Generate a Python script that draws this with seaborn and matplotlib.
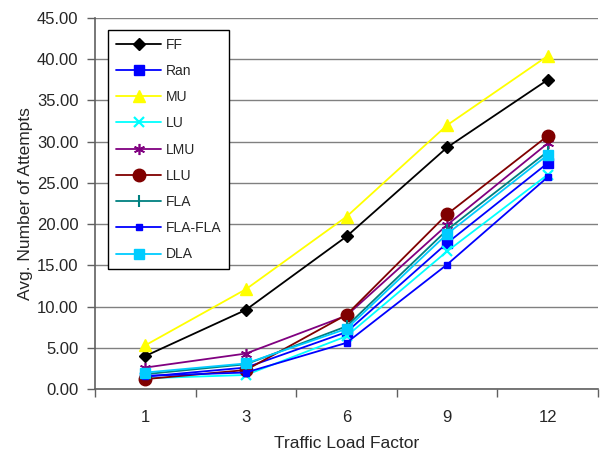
import matplotlib
matplotlib.use("Agg")
import matplotlib.pyplot as plt
import seaborn as sns
import pandas as pd
import numpy as np

categories = ["1", "3", "6", "9", "12"]
series_names = ["FF", "Ran", "MU", "LU", "LMU", "LLU", "FLA", "FLA-FLA", "DLA"]
ff = [4.0, 9.6, 18.5, 29.3, 37.5]
ran = [1.5, 2.6, 6.9, 17.7, 27.4]
mu = [5.3, 12.1, 20.9, 32.0, 40.4]
lu = [1.3, 1.7, 6.4, 16.7, 26.0]
lmu = [2.6, 4.3, 8.9, 19.9, 29.8]
llu = [1.2, 2.3, 9.0, 21.2, 30.7]
fla = [1.8, 3.0, 7.6, 19.3, 28.8]
fla_fla = [1.6, 2.0, 5.6, 15.1, 25.7]
dla = [2.0, 3.1, 7.3, 18.8, 28.4]

values = [ff, ran, mu, lu, lmu, llu, fla, fla_fla, dla]
colors = ["#000000", "#0000FF", "#FFFF00", "#00FFFF", "#800080",
          "#800000", "#008080", "#0000FF", "#00CCFF"]
markers = ["D", "s", "^", "x", (6, 2, 0), "o", "|", "s", "s"]
msizes = [6, 7.5, 8.5, 7, 8, 9, 8, 4.5, 7]
mews = [1, 1, 1, 1.6, 1.2, 1, 1.5, 1, 1]

sns.set_theme(style="white")
plt.rcParams["font.family"] = ["Liberation Sans", "DejaVu Sans"]

fig = plt.figure(figsize=(6.0, 4.54), dpi=100)
ax = fig.add_axes([95/600, 1-389/454, (598-95)/600, (389-18)/454])

pos = list(range(len(categories)))
for name, vals, c, m, ms, mew in zip(series_names, values, colors, markers, msizes, mews):
    df = pd.DataFrame({"x": pos, "y": vals})
    sns.lineplot(data=df, x="x", y="y", ax=ax, color=c, marker=m,
                 markersize=ms, markeredgewidth=mew, markeredgecolor=c,
                 linewidth=1.3, label=name)

ax.set_xlim(-0.5, len(categories) - 0.5)
ax.set_ylim(0, 45)
yt = np.arange(0, 45.01, 5)
ax.set_yticks(yt)
ax.set_yticklabels([f"{v:.2f}" for v in yt], fontsize=12)
ax.set_xticks(pos)
ax.set_xticklabels(categories, fontsize=12)
ax.set_xticks(np.arange(-0.5, len(categories), 1), minor=True)
ax.tick_params(axis="x", which="major", length=0, pad=15)
ax.tick_params(axis="x", which="minor", length=6, width=1, color="#606060", direction="out", bottom=True)
ax.tick_params(axis="y", which="major", length=6, width=1, color="#606060", direction="out", left=True, pad=6)
ax.yaxis.grid(True, color="#808080", linewidth=1)
ax.xaxis.grid(False)
for s in ["top", "right"]:
    ax.spines[s].set_visible(False)
for s in ["left", "bottom"]:
    ax.spines[s].set_color("#606060")
    ax.spines[s].set_linewidth(1.2)

ax.set_xlabel("Traffic Load Factor", fontsize=12.5, labelpad=8)
ax.set_ylabel("Avg. Number of Attempts", fontsize=12.5, labelpad=3)

leg = ax.legend(loc="upper left", bbox_to_anchor=(13/503, 1-12/371), fontsize=10,
                frameon=True, fancybox=False, edgecolor="black", framealpha=1,
                borderpad=0.55, labelspacing=0.88, handlelength=3.3, handletextpad=0.3,
                borderaxespad=0)
leg.get_frame().set_linewidth(1)

fig.savefig("out.png", dpi=100)
